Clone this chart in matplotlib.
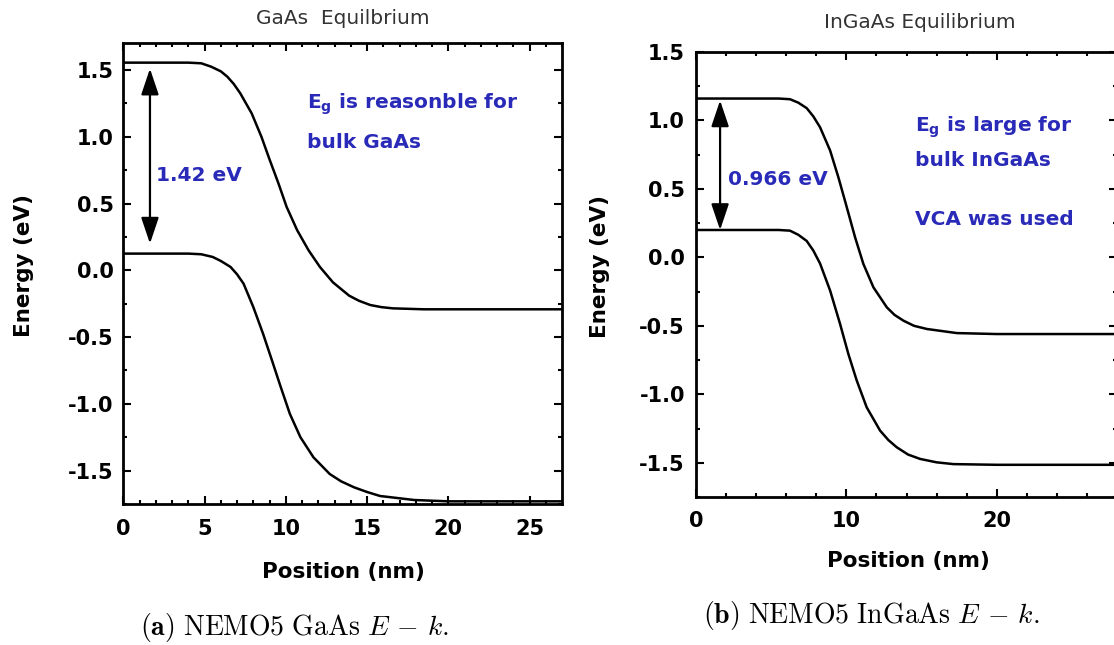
import matplotlib
matplotlib.use("Agg")
import matplotlib.pyplot as plt
from matplotlib.ticker import MultipleLocator

plt.rcParams["axes.unicode_minus"] = False

# band edges (position in nm, energy in eV)
gaas_x_cb = [0, 2, 4, 4.8, 5.4, 6.0, 6.4, 6.8, 7.2, 7.9, 8.5, 9.0, 9.55, 10.05, 10.7,
             11.4, 12.1, 12.9, 13.9, 14.5, 15.2, 15.9, 16.6, 18.5, 22, 27]
gaas_e_cb = [1.555, 1.555, 1.555, 1.55, 1.525, 1.49, 1.45, 1.395, 1.325, 1.175, 1.0,
             0.83, 0.65, 0.475, 0.30, 0.15, 0.025, -0.09, -0.19, -0.228, -0.26,
             -0.276, -0.285, -0.292, -0.292, -0.292]
gaas_x_vb = [0, 2, 4, 4.8, 5.5, 6.0, 6.6, 7.0, 7.4, 8.0, 8.6, 9.15, 9.65, 10.25, 10.9,
             11.7, 12.7, 13.4, 14.2, 15.0, 15.8, 17.9, 20, 27]
gaas_e_vb = [0.125, 0.125, 0.125, 0.12, 0.10, 0.07, 0.025, -0.03, -0.10, -0.275,
             -0.475, -0.675, -0.86, -1.075, -1.25, -1.40, -1.525, -1.58, -1.625,
             -1.66, -1.69, -1.72, -1.73, -1.73]

ingaas_x_cb = [0, 3, 5.5, 6.25, 6.8, 7.36, 7.8, 8.25, 8.92, 9.47, 10.03, 10.58,
               11.13, 11.8, 12.69, 13.2, 13.79, 14.5, 15.35, 17.34, 20, 28]
ingaas_e_cb = [1.16, 1.16, 1.16, 1.155, 1.13, 1.09, 1.03, 0.95, 0.78, 0.584, 0.365,
               0.146, -0.048, -0.219, -0.365, -0.42, -0.462, -0.50, -0.523, -0.553,
               -0.56, -0.56]
ingaas_x_vb = [0, 3, 5.5, 6.25, 6.8, 7.36, 7.8, 8.25, 8.92, 9.58, 10.13, 10.69,
               11.35, 12.24, 12.8, 13.35, 14.1, 14.9, 16.0, 17.12, 20, 28]
ingaas_e_vb = [0.2, 0.2, 0.2, 0.195, 0.165, 0.12, 0.05, -0.045, -0.243, -0.486,
               -0.705, -0.9, -1.095, -1.265, -1.335, -1.387, -1.44, -1.472, -1.497,
               -1.51, -1.515, -1.515]

# gap arrows: (x, top, bottom) and their labels
gaas_gap = (1.64, 1.51, 0.20)
ingaas_gap = (1.6, 1.146, 0.20)
gaas_gap_label = "1.42 eV"
ingaas_gap_label = "0.966 eV"

blue = "#2a2ab8"

fig = plt.figure(figsize=(11.14, 6.45), dpi=100)
fig.patch.set_facecolor("white")

ax1 = fig.add_axes([0.1107, 0.2186, 0.3938, 0.7143])
ax2 = fig.add_axes([0.6248, 0.2295, 0.3779, 0.6899])


def style_axes(ax, xmaj, xmin, xpad, ypad):
    for s in ax.spines.values():
        s.set_linewidth(2.0)
    ax.xaxis.set_major_locator(MultipleLocator(xmaj))
    ax.xaxis.set_minor_locator(MultipleLocator(xmin))
    ax.yaxis.set_major_locator(MultipleLocator(0.5))
    ax.yaxis.set_minor_locator(MultipleLocator(0.25))
    ax.tick_params(which="both", direction="in", top=True, right=True, width=1.5)
    ax.tick_params(which="major", length=6)
    ax.tick_params(which="minor", length=3)
    ax.tick_params(axis="x", pad=xpad)
    ax.tick_params(axis="y", pad=ypad)
    for lab in ax.get_xticklabels() + ax.get_yticklabels():
        lab.set_fontweight("bold")
        lab.set_fontsize(15)


arrow_style = dict(arrowstyle="<|-|>,head_length=0.8,head_width=0.27",
                   lw=1.6, color="black", shrinkA=0, shrinkB=0, mutation_scale=20)

# --- GaAs panel
ax1.plot(gaas_x_cb, gaas_e_cb, color="black", lw=1.8)
ax1.plot(gaas_x_vb, gaas_e_vb, color="black", lw=1.8)
ax1.set_xlim(0, 27)
ax1.set_ylim(-1.75, 1.70)
style_axes(ax1, 5, 1, 11, 7)
ax1.annotate("", xy=(gaas_gap[0], gaas_gap[1]), xytext=(gaas_gap[0], gaas_gap[2]),
             arrowprops=arrow_style)
ax1.text(2.02, 0.71, gaas_gap_label, color=blue, fontsize=14.5, fontweight="bold",
         ha="left", va="center")
ax1.text(11.29, 1.24, r"E$_\mathbf{g}$ is reasonble for", color=blue, fontsize=14.5,
         fontweight="bold", ha="left", va="center", math_fontfamily="dejavusans")
ax1.text(11.29, 0.96, "bulk GaAs", color=blue, fontsize=14.5, fontweight="bold",
         ha="left", va="center")

# --- InGaAs panel
ax2.plot(ingaas_x_cb, ingaas_e_cb, color="black", lw=1.8)
ax2.plot(ingaas_x_vb, ingaas_e_vb, color="black", lw=1.8)
ax2.set_xlim(0, 28)
ax2.set_ylim(-1.75, 1.5)
style_axes(ax2, 10, 2, 10, 8)
ax2.annotate("", xy=(ingaas_gap[0], ingaas_gap[1]), xytext=(ingaas_gap[0], ingaas_gap[2]),
             arrowprops=arrow_style)
ax2.text(2.1, 0.57, ingaas_gap_label, color=blue, fontsize=14.5, fontweight="bold",
         ha="left", va="center")
ax2.text(14.57, 0.95, r"E$_\mathbf{g}$ is large for", color=blue, fontsize=14.5,
         fontweight="bold", ha="left", va="center", math_fontfamily="dejavusans")
ax2.text(14.57, 0.706, "bulk InGaAs", color=blue, fontsize=14.5, fontweight="bold",
         ha="left", va="center")
ax2.text(14.57, 0.28, "VCA was used", color=blue, fontsize=14.5, fontweight="bold",
         ha="left", va="center")

# titles, axis labels, captions placed in figure pixels
W, H = 1114.0, 645.0


def ftext(px, py, s, **kw):
    fig.text(px / W, 1 - py / H, s, ha="center", va="center", **kw)


ftext(343, 18, "GaAs  Equilbrium", fontsize=14.5, color="#333333")
ftext(920, 23, "InGaAs Equilibrium", fontsize=14.5, color="#333333")
ftext(24, 265, "Energy (eV)", fontsize=15.5, fontweight="bold", rotation=90)
ftext(600, 266, "Energy (eV)", fontsize=15.5, fontweight="bold", rotation=90)
ftext(343, 572, "Position (nm)", fontsize=15.5, fontweight="bold")
ftext(908, 561, "Position (nm)", fontsize=15.5, fontweight="bold")
ftext(295, 627, r"$\mathbf{(a)}\ \mathrm{NEMO5\ GaAs}\ E\,-\,k.$", fontsize=20,
      math_fontfamily="cm")
ftext(871, 615, r"$\mathbf{(b)}\ \mathrm{NEMO5\ InGaAs}\ E\,-\,k.$", fontsize=20,
      math_fontfamily="cm")

fig.savefig("out.png", dpi=100)
